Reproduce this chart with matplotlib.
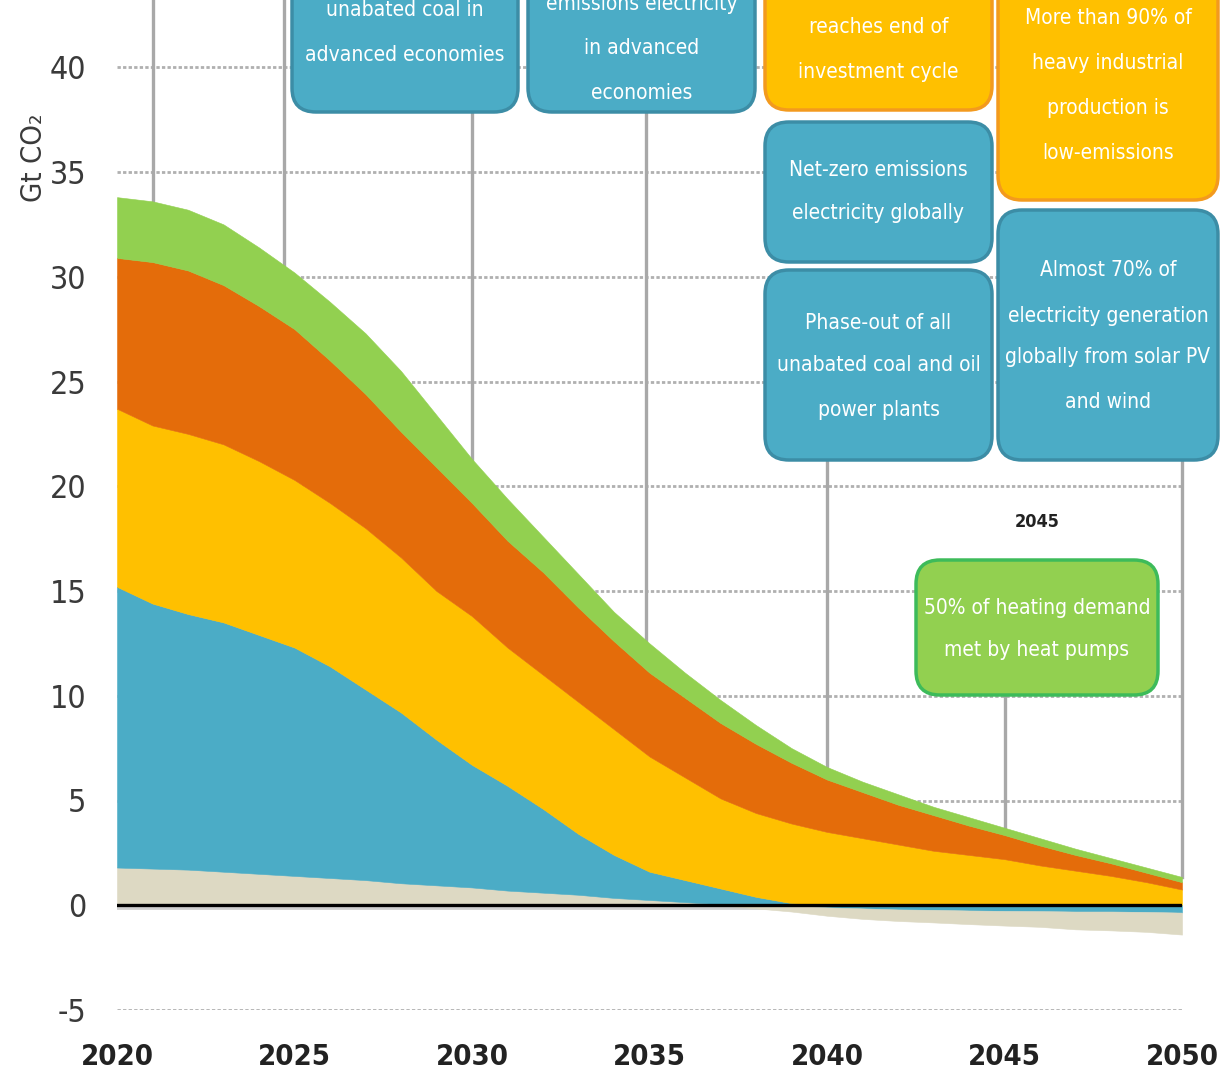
import numpy as np
import matplotlib.pyplot as plt
from matplotlib.patches import FancyBboxPatch

plt.rcParams['axes.unicode_minus'] = False
plt.rcParams['font.family'] = ['DejaVu Sans']
plt.rcParams['font.stretch'] = 'condensed'

# 数据：各部门排放 (Gt CO2)
years = np.arange(2020, 2051)
other = [1.8, 1.75, 1.7, 1.6, 1.5, 1.4, 1.3, 1.2, 1.05, 0.95, 0.85, 0.7, 0.6, 0.5, 0.35, 0.25,
         0.15, 0.05, -0.15, -0.3, -0.4, -0.5, -0.55, -0.6, -0.65, -0.7, -0.75, -0.85, -0.9, -0.95, -1.05]
power = [13.4, 12.65, 12.2, 11.9, 11.4, 10.9, 10.1, 9.1, 8.15, 6.95, 5.85, 5.0, 4.0, 2.9, 2.05, 1.35,
         1.05, 0.75, 0.4, 0.1, -0.1, -0.15, -0.2, -0.22, -0.25, -0.27, -0.28, -0.3, -0.3, -0.32, -0.35]
industry = [8.5, 8.5, 8.6, 8.5, 8.3, 8.0, 7.8, 7.7, 7.4, 7.1, 7.1, 6.6, 6.4, 6.3, 6.0, 5.5,
            4.9, 4.3, 4.0, 3.8, 3.5, 3.2, 2.9, 2.6, 2.4, 2.2, 1.9, 1.65, 1.4, 1.1, 0.75]
transport = [7.2, 7.8, 7.8, 7.6, 7.4, 7.2, 6.8, 6.4, 6.0, 5.9, 5.4, 5.1, 4.9, 4.5, 4.2, 4.0,
             3.8, 3.6, 3.3, 2.9, 2.5, 2.2, 1.9, 1.7, 1.4, 1.15, 0.95, 0.75, 0.6, 0.45, 0.35]
buildings = [2.9, 2.9, 2.9, 2.9, 2.8, 2.7, 2.8, 2.9, 2.9, 2.5, 2.1, 2.0, 1.7, 1.6, 1.4, 1.4,
             1.2, 1.1, 0.9, 0.7, 0.6, 0.5, 0.5, 0.4, 0.4, 0.35, 0.35, 0.3, 0.25, 0.25, 0.25]

colors = {"other": "#DDD9C3", "power": "#4BACC6", "industry": "#FFC000",
          "transport": "#E46C0A", "buildings": "#92D050"}

yticks = list(range(-5, 41, 5))
xticks = [2020, 2025, 2030, 2035, 2040, 2045, 2050]

# 引线位置（年份）与上端
callout_years = [2021, 2024.7, 2030, 2034.9, 2040, 2045, 2050]
callout_tops = [44, 44, 37.9, 37.9, 21.3, 10.0, 21.3]

BLUE_BOX = ("#4BACC6", "#3C8DA6")
ORANGE_BOX = ("#FFC000", "#F39A1E")
GREEN_BOX = ("#92D050", "#3DBB5A")

fig = plt.figure(figsize=(12.24, 10.75), dpi=100)
ax = fig.add_axes([117 / 1224, 1 - 1010 / 1075, (1182 - 117) / 1224, 1010 / 1075])
ax.set_xlim(2020, 2050)
ax.set_ylim(-5, 1010 / 20.95 - 5)
for s in ax.spines.values():
    s.set_visible(False)

# 网格线
for v in yticks:
    if v != 0:
        ax.axhline(v, color="#b0b0b0", lw=2.0, ls=(0, (1.2, 0.8)), zorder=0)

# 正值堆叠
base = np.zeros(len(years))
for name, arr in [("other", other), ("power", power), ("industry", industry),
                  ("transport", transport), ("buildings", buildings)]:
    pos = np.clip(np.array(arr), 0, None)
    ax.fill_between(years, base, base + pos, color=colors[name], lw=0.4, ec=colors[name], zorder=2)
    base = base + pos
total = base

# 负值堆叠
base = np.zeros(len(years))
for name, arr in [("power", power), ("other", other)]:
    neg = np.clip(np.array(arr), None, 0)
    ax.fill_between(years, base + neg, base, color=colors[name], lw=0.4, ec=colors[name], zorder=2)
    base = base + neg

ax.plot([2020, 2050], [-0.15, -0.15], color="#cfcfcf", lw=2, zorder=1)
ax.plot([2020, 2050], [0, 0], color="black", lw=2.4, zorder=4)

# 引线
for yr, top in zip(callout_years, callout_tops):
    bottom = np.interp(yr, years, total)
    ax.plot([yr, yr], [bottom, top], color="#a8a8a8", lw=2.4, zorder=1, clip_on=False)

ax.set_xticks(xticks)
ax.set_xticklabels([str(x) for x in xticks])
ax.set_yticks(yticks)
ax.set_yticklabels([str(v) for v in yticks])
ax.tick_params(axis="y", length=0, pad=22, labelsize=23, labelcolor="#3a3a3a")
ax.tick_params(axis="x", length=0, pad=24, labelsize=21, labelcolor="#222222")
for t in ax.get_xticklabels():
    t.set_fontweight("bold")

fig.text(34 / 1224, 1 - 158 / 1075, "Gt CO₂", rotation=90, ha="center", va="center",
         fontsize=21, color="#3a3a3a")

# 标注框（像素坐标层）
ov = fig.add_axes([0, 0, 1, 1])
ov.set_xlim(0, 1224)
ov.set_ylim(1075, 0)
ov.axis("off")


def box(x0, y0, x1, y1, style, lines, line_ys):
    fc, ec = style
    p = FancyBboxPatch((x0, y0), x1 - x0, y1 - y0, boxstyle="round,pad=0,rounding_size=24",
                       fc=fc, ec=ec, lw=2.5, zorder=5)
    ov.add_patch(p)
    cx = (x0 + x1) / 2
    for txt, yy in zip(lines, line_ys):
        ov.text(cx, yy, txt, ha="center", va="center", color="white", fontsize=15, zorder=6)


box(292, -40, 518, 112, BLUE_BOX, ["unabated coal in", "advanced economies"], [10, 55])
box(528, -40, 755, 112, BLUE_BOX, ["emissions electricity", "in advanced", "economies"], [4, 48, 93])
box(765, -40, 992, 110, ORANGE_BOX, ["reaches end of", "investment cycle"], [27, 72])
box(998, -40, 1218, 200, ORANGE_BOX,
    ["More than 90% of", "heavy industrial", "production is", "low-emissions"], [18, 63, 108, 153])
box(765, 122, 992, 262, BLUE_BOX, ["Net-zero emissions", "electricity globally"], [170, 213])
box(765, 270, 992, 460, BLUE_BOX, ["Phase-out of all", "unabated coal and oil", "power plants"],
    [323, 365, 410])
box(998, 210, 1218, 460, BLUE_BOX,
    ["Almost 70% of", "electricity generation", "globally from solar PV", "and wind"],
    [270, 316, 357, 402])
box(916, 560, 1158, 695, GREEN_BOX, ["50% of heating demand", "met by heat pumps"], [608, 650])
ov.text(1037, 522, "2045", ha="center", va="center", fontsize=13, fontweight="bold", color="#222222")

fig.savefig("out.png", dpi=100)
